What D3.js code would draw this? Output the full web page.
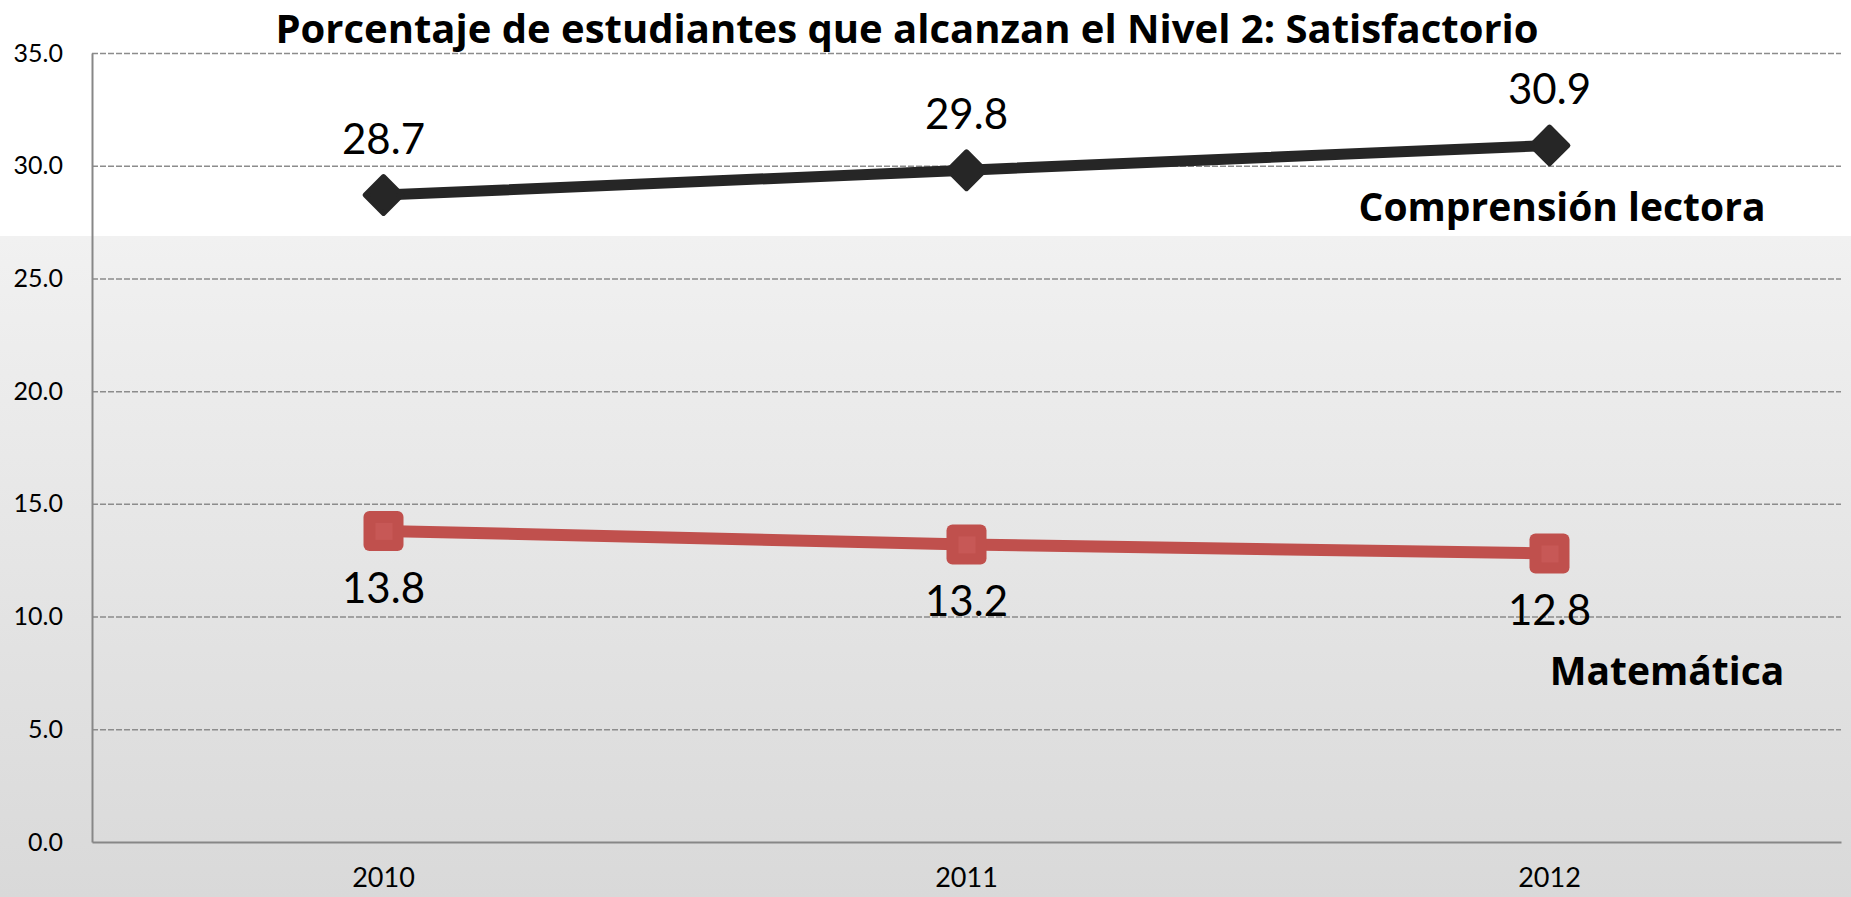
<!DOCTYPE html>
<html>
<head>
<meta charset="utf-8">
<script src="https://cdn.jsdelivr.net/npm/d3@7"></script>
<style>
  body { margin: 0; overflow: hidden; }
</style>
</head>
<body>
<div id="chart"></div>
<script>
let width = 1851,
    height = 897,
    margin = ({ top: 53, right: 10, bottom: 55, left: 92 });

// data
const years = ["2010", "2011", "2012"];
const lectora = [28.7, 29.8, 30.9];
const matematica = [13.8, 13.2, 12.8];
const yTicks = [0, 5, 10, 15, 20, 25, 30, 35];

const numFont = "Lato, sans-serif",
      boldFont = "'Open Sans', sans-serif";

const svg = d3.select("#chart")
  .append("svg")
  .attr("width", width)
  .attr("height", height);

// background: white top, gray gradient below
const grad = svg.append("defs").append("linearGradient")
  .attr("id", "bg").attr("x1", 0).attr("y1", 0).attr("x2", 0).attr("y2", 1);
grad.append("stop").attr("offset", "0%").attr("stop-color", "#f1f1f1");
grad.append("stop").attr("offset", "100%").attr("stop-color", "#d9d9d9");

svg.append("rect").attr("width", width).attr("height", height).attr("fill", "#fff");
svg.append("rect").attr("y", 236).attr("width", width).attr("height", height - 236).attr("fill", "url(#bg)");

let x = d3.scaleBand()
  .domain(years)
  .range([margin.left, width - margin.right])
  .padding(0);

let y = d3.scaleLinear()
  .domain([0, 35])
  .range([height - margin.bottom, margin.top]);

// gridlines
svg.append("g")
  .attr("transform", `translate(${margin.left},0)`)
  .call(d3.axisLeft(y)
    .tickValues(yTicks.slice(1))
    .tickSize(-(width - margin.left - margin.right))
    .tickFormat("")
  )
  .call(g => g.select(".domain").remove())
  .call(g => g.selectAll("line")
    .attr("stroke", "#8c8c8c")
    .attr("stroke-width", 1.5)
    .attr("stroke-dasharray", "6,2"));

// y axis
svg.append("g")
  .attr("transform", `translate(${margin.left},0)`)
  .call(d3.axisLeft(y)
    .tickValues(yTicks)
    .tickSize(0)
    .tickPadding(29)
    .tickFormat(d3.format(".1f"))
  )
  .call(g => g.select(".domain").attr("stroke", "#878787").attr("stroke-width", 2))
  .call(g => g.selectAll("text")
    .attr("font-size", 25)
    .attr("fill", "#000")
    .style("font-family", numFont));

// x axis
svg.append("g")
  .attr("transform", `translate(0,${height - margin.bottom})`)
  .call(d3.axisBottom(x)
    .tickSize(0)
    .tickSizeOuter(0)
    .tickPadding(26)
  )
  .call(g => g.select(".domain").attr("stroke", "#878787").attr("stroke-width", 2))
  .call(g => g.selectAll("text")
    .attr("font-size", 27)
    .attr("fill", "#000")
    .style("font-family", numFont));

let line = d3.line()
  .x((d, i) => x(years[i]) + x.bandwidth() / 2)
  .y(d => y(d));

// Matemática series
svg.append("path")
  .datum(matematica)
  .attr("fill", "none")
  .attr("stroke", "#c0504d")
  .attr("stroke-width", 12)
  .attr("d", line);

let sq = svg.append("g").selectAll("g")
  .data(matematica)
  .join("g")
  .attr("transform", (d, i) => `translate(${x(years[i]) + x.bandwidth() / 2},${y(d)})`);
sq.append("rect")
  .attr("x", -20).attr("y", -20).attr("width", 40).attr("height", 40)
  .attr("rx", 6)
  .attr("fill", "#c0504d");
sq.append("rect")
  .attr("x", -8).attr("y", -8).attr("width", 17).attr("height", 17)
  .attr("fill", "#c75856");
sq.append("text")
  .text(d => d.toFixed(1))
  .attr("y", 72)
  .attr("text-anchor", "middle")
  .attr("font-size", 42)
  .attr("fill", "#000")
  .style("font-family", numFont);

// Comprensión lectora series
svg.append("path")
  .datum(lectora)
  .attr("fill", "none")
  .attr("stroke", "#262626")
  .attr("stroke-width", 11)
  .attr("d", line);

let dm = svg.append("g").selectAll("g")
  .data(lectora)
  .join("g")
  .attr("transform", (d, i) => `translate(${x(years[i]) + x.bandwidth() / 2},${y(d)})`);
dm.append("rect")
  .attr("x", -13).attr("y", -13).attr("width", 26).attr("height", 26)
  .attr("transform", "rotate(45)")
  .attr("fill", "#262626")
  .attr("stroke", "#262626")
  .attr("stroke-width", 5)
  .attr("stroke-linejoin", "round");
dm.append("text")
  .text(d => d.toFixed(1))
  .attr("y", -41)
  .attr("text-anchor", "middle")
  .attr("font-size", 42)
  .attr("fill", "#000")
  .style("font-family", numFont);

// series names
svg.append("text")
  .text("Comprensión lectora")
  .attr("x", 1562)
  .attr("y", 221)
  .attr("text-anchor", "middle")
  .attr("font-size", 39)
  .attr("font-weight", "bold")
  .attr("fill", "#000")
  .style("font-family", boldFont);

svg.append("text")
  .text("Matemática")
  .attr("x", 1667)
  .attr("y", 685)
  .attr("text-anchor", "middle")
  .attr("font-size", 39)
  .attr("font-weight", "bold")
  .attr("fill", "#000")
  .style("font-family", boldFont);

// title
svg.append("text")
  .text("Porcentaje de estudiantes que alcanzan el Nivel 2: Satisfactorio")
  .attr("x", 907)
  .attr("y", 43)
  .attr("text-anchor", "middle")
  .attr("font-size", 40)
  .attr("font-weight", "bold")
  .attr("fill", "#000")
  .style("font-family", boldFont);
</script>
</body>
</html>
